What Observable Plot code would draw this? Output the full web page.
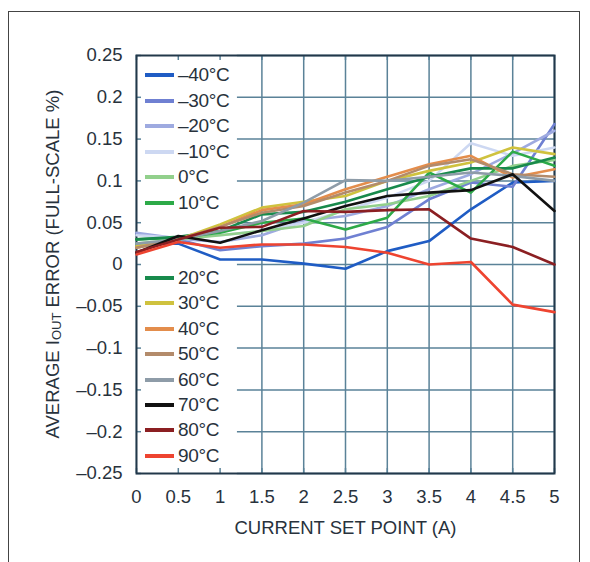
<!DOCTYPE html>
<html>
<head>
<meta charset="utf-8">
<script src="https://cdn.jsdelivr.net/npm/d3@7"></script>
<script src="https://cdn.jsdelivr.net/npm/@observablehq/plot@0.6"></script>
<style>
  html, body { margin: 0; padding: 0; background: #fff; }
  #wrap { position: relative; width: 590px; height: 562px; overflow: hidden; font-family: "Liberation Sans", Arial, sans-serif; }
  #border { position: absolute; left: 8px; top: 11px; width: 572px; height: 600px; border: 1px solid #444; border-bottom: none; box-sizing: border-box; }
  #chart { position: absolute; left: 0; top: 0; }
  .leg { position: absolute; height: 26px; display: flex; align-items: center; }
  .leg .sw { width: 29px; height: 4px; margin-right: 4px; }
  .leg .tx { font-size: 19px; color: #28323c; letter-spacing: -0.3px; }
</style>
</head>
<body>
<div id="wrap">
  <div id="border"></div>
  <div id="chart"></div>
  <div id="legend"></div>
</div>
<script>
// ---- data ----
const setPoints = [0, 0.5, 1, 1.5, 2, 2.5, 3, 3.5, 4, 4.5, 5];
const temperatures = ["–40°C", "–30°C", "–20°C", "–10°C", "0°C", "10°C", "20°C", "30°C", "40°C", "50°C", "60°C", "70°C", "80°C", "90°C"];
const errM40 = [0.025, 0.025, 0.006, 0.006, 0.001, -0.005, 0.016, 0.028, 0.066, 0.098, 0.100];
const errM30 = [0.037, 0.030, 0.017, 0.022, 0.025, 0.031, 0.045, 0.078, 0.098, 0.093, 0.168];
const errM20 = [0.038, 0.031, 0.027, 0.035, 0.052, 0.058, 0.070, 0.090, 0.108, 0.133, 0.160];
const errM10 = [0.035, 0.032, 0.035, 0.040, 0.050, 0.065, 0.080, 0.100, 0.145, 0.130, 0.140];
const err0   = [0.025, 0.030, 0.035, 0.040, 0.046, 0.066, 0.072, 0.082, 0.100, 0.118, 0.125];
const err10  = [0.030, 0.032, 0.038, 0.050, 0.055, 0.042, 0.056, 0.110, 0.086, 0.135, 0.118];
const err20  = [0.030, 0.033, 0.040, 0.060, 0.063, 0.075, 0.090, 0.105, 0.115, 0.115, 0.128];
const err30  = [0.022, 0.030, 0.048, 0.068, 0.075, 0.082, 0.100, 0.112, 0.122, 0.140, 0.132];
const err40  = [0.020, 0.030, 0.045, 0.065, 0.072, 0.090, 0.105, 0.120, 0.130, 0.104, 0.114];
const err50  = [0.020, 0.030, 0.045, 0.062, 0.070, 0.086, 0.100, 0.118, 0.126, 0.108, 0.105];
const err60  = [0.025, 0.030, 0.040, 0.052, 0.074, 0.101, 0.100, 0.105, 0.110, 0.106, 0.100];
const err70  = [0.014, 0.034, 0.026, 0.041, 0.055, 0.070, 0.082, 0.086, 0.089, 0.108, 0.064];
const err80  = [0.015, 0.030, 0.044, 0.045, 0.064, 0.063, 0.065, 0.066, 0.031, 0.021, 0.000];
const err90  = [0.012, 0.027, 0.020, 0.024, 0.024, 0.021, 0.014, 0.000, 0.003, -0.048, -0.057];
const xTicks = [0, 0.5, 1, 1.5, 2, 2.5, 3, 3.5, 4, 4.5, 5];
const yTicks = [-0.25, -0.2, -0.15, -0.1, -0.05, 0, 0.05, 0.1, 0.15, 0.2, 0.25];
const xTitle = "CURRENT SET POINT (A)";

// ---- styles ----
const palette = ["#1f5cc4", "#6f80d2", "#9eaae0", "#cdd8f2", "#92d08c", "#2daa48", "#188a4c", "#cfc23e",
                 "#e38d4c", "#b38b6b", "#8e9ca8", "#111111", "#8b1f22", "#ee4430"];
const gridColor = "#5a8298";
const frameColor = "#22384a";
const textColor = "#28323c";
const legendEdge = 1.205;   // x extent (data units) of legend's white background

const series = [errM40, errM30, errM20, errM10, err0, err10, err20, err30, err40, err50, err60, err70, err80, err90];
const rows = [];
series.forEach((vals, i) => vals.forEach((v, j) => rows.push({x: setPoints[j], y: v, temp: temperatures[i]})));

const fmt = d => (d < 0 ? "–" : "") + String(Math.abs(d));

const plot = Plot.plot({
  width: 590,
  height: 562,
  marginLeft: 136,
  marginRight: 36,
  marginTop: 55,
  marginBottom: 89,
  style: {fontFamily: "'Liberation Sans', Arial, sans-serif", fontSize: "18.5px", color: textColor, background: "transparent"},
  x: {domain: [0, 5]},
  y: {domain: [-0.25, 0.25]},
  color: {domain: temperatures, range: palette},
  marks: [
    Plot.ruleY(yTicks, {x1: legendEdge, x2: 5, stroke: gridColor, strokeWidth: 1.5}),
    Plot.ruleX(xTicks, {y1: -0.25, y2: 0.25, stroke: gridColor, strokeWidth: 1.5}),
    Plot.rect([{}], {x1: 0, x2: legendEdge, y1: -0.25, y2: 0.25, fill: "white"}),
    Plot.ruleY(yTicks, {x1: 0, x2: 0.06, stroke: gridColor, strokeWidth: 1.5}),
    Plot.ruleX(xTicks, {y1: -0.25, y2: -0.244, stroke: gridColor, strokeWidth: 1.5}),
    Plot.ruleX(xTicks, {y1: 0.25, y2: 0.244, stroke: gridColor, strokeWidth: 1.5}),
    Plot.frame({stroke: frameColor, strokeWidth: 2}),
    Plot.line(rows, {x: "x", y: "y", z: "temp", stroke: "temp", strokeWidth: 2.6, strokeLinejoin: "round"}),
    Plot.axisX({ticks: xTicks, tickSize: 0, tickPadding: 16, tickFormat: fmt, label: null, fontSize: 18.5}),
    Plot.axisY({ticks: yTicks, tickSize: 0, tickPadding: 14, tickFormat: fmt, label: null, fontSize: 18.5}),
    Plot.text([xTitle], {frameAnchor: "bottom", dy: 55, fontSize: 18.5, lineAnchor: "middle", fill: textColor})
  ]
});
document.getElementById("chart").appendChild(plot);

// y-axis title with subscript
const svg = d3.select(plot);
const yt = svg.append("text")
  .attr("transform", "translate(52,264) rotate(-90)")
  .attr("text-anchor", "middle")
  .attr("dominant-baseline", "central")
  .attr("fill", textColor)
  .attr("font-size", "18.5px");
yt.append("tspan").text("AVERAGE I");
yt.append("tspan").attr("font-size", "13px").attr("dy", "4").text("OUT");
yt.append("tspan").attr("dy", "-4").text(" ERROR (FULL-SCALE %)");

// legend overlay (two groups)
const legend = document.getElementById("legend");
temperatures.forEach((t, i) => {
  const top = i < 6 ? 62 + i * 25.6 : 265 + (i - 6) * 25.4;
  const item = document.createElement("div");
  item.className = "leg";
  item.style.left = "145px";
  item.style.top = top + "px";
  item.innerHTML = `<div class="sw" style="background:${palette[i]}"></div><div class="tx">${t}</div>`;
  legend.appendChild(item);
});
</script>
</body>
</html>
